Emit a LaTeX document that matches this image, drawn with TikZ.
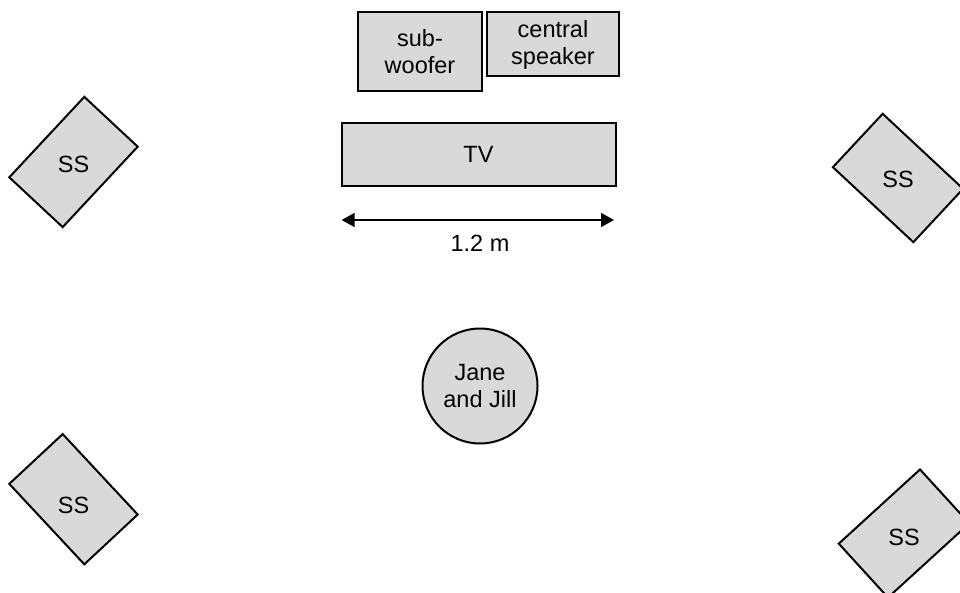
\documentclass[tikz,border=0pt]{standalone}
\usepackage{fontspec}
\setmainfont{Liberation Sans}
\usetikzlibrary{arrows.meta}
\definecolor{boxgray}{HTML}{D9D9D9}
\begin{document}
\begin{tikzpicture}[x=1pt,y=-1pt,
  box/.style={draw=black, line width=2pt, fill=boxgray, inner sep=0pt, align=center,
    font=\fontsize{23.5}{27}\selectfont},
  ssbox/.style={box, minimum width=73pt, minimum height=110pt},
  txt/.style={inner sep=0pt, font=\fontsize{23.5}{27}\selectfont},
  dimline/.style={line width=2pt, {Triangle[length=13pt,width=14pt]}-{Triangle[length=13pt,width=14pt]}}]
\useasboundingbox (0,0) rectangle (960,593);
% top row
\node[box, minimum width=124pt, minimum height=79pt] (sub) at (420,51.5) {sub-\\woofer};
\node[box, minimum width=132pt, minimum height=64pt] (central) at (553,44.5) {central\\speaker};
\node[box, minimum width=274pt, minimum height=63pt] (tv) at (478.5,154.7) {TV};
% dimension
\coordinate (al) at (341.7,220);
\coordinate (ar) at (614,220);
\draw[dimline] (al) -- (ar);
\node[txt] (len) at (480,243) {1.2 m};
% listeners
\node[box, circle, minimum size=115pt] (jj) at (480,386) {Jane\\and Jill};
% surround speakers
\node[ssbox, rotate=-43] (sstl) at (73.5,162) {};
\node[txt] (sstlt) at ([yshift=-2pt]sstl.center) {SS};
\node[ssbox, rotate=47] (sstr) at (898,178) {};
\node[txt] (sstrt) at ([yshift=-1pt]sstr.center) {SS};
\node[ssbox, rotate=43] (ssbl) at (73.5,499.2) {};
\node[txt] (ssblt) at ([yshift=-6pt]ssbl.center) {SS};
\node[ssbox, rotate=-47.6] (ssbr) at (904,533.5) {};
\node[txt] (ssbrt) at ([yshift=-4pt]ssbr.center) {SS};
\end{tikzpicture}
\end{document}
